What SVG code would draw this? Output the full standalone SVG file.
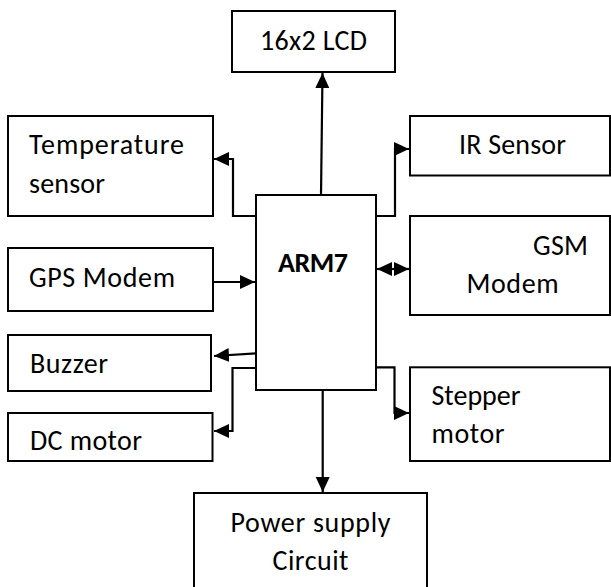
<svg xmlns="http://www.w3.org/2000/svg" width="611" height="587" viewBox="0 0 611 587">
<defs>
<style>
.box{fill:#fff;stroke:#000;stroke-width:2}
.t{font-family:Carlito,Calibri,Lato,"Liberation Sans",sans-serif;font-size:28px;fill:#000}
.b{font-weight:bold}
.c{fill:none;stroke:#000;stroke-width:2.2}
</style>
<marker id="ah" markerUnits="userSpaceOnUse" markerWidth="16" markerHeight="16" refX="15" refY="7" orient="auto-start-reverse">
<path d="M0,0 L15,7 L0,14 z" fill="#000"/>
</marker>
</defs>
<rect width="611" height="587" fill="#fff"/>
<g id="connectors">
<path class="c" d="M321,195 L322.5,73" marker-end="url(#ah)"/>
<path class="c" d="M256,216 H233 V159 H214" marker-end="url(#ah)"/>
<path class="c" d="M376,216 H395 V149 H409" marker-end="url(#ah)"/>
<path class="c" d="M213,282 H255" marker-end="url(#ah)"/>
<path class="c" d="M377,269 H409" marker-start="url(#ah)" marker-end="url(#ah)"/>
<path class="c" d="M256,353.3 L214,356" marker-end="url(#ah)"/>
<path class="c" d="M256,368 H232.5 V431 H214" marker-end="url(#ah)"/>
<path class="c" d="M376,367.3 H394.5 V413 H409" marker-end="url(#ah)"/>
<path class="c" d="M322.7,390 V492" marker-end="url(#ah)"/>
</g>
<g id="lcd"><rect class="box" x="232" y="11" width="163" height="61"/><text class="t" x="260" y="50" textLength="107">16x2 LCD</text></g>
<g id="temperature"><rect class="box" x="8" y="116" width="205" height="100"/><text class="t" x="29" y="154.3" textLength="155">Temperature</text><text class="t" x="29" y="192.7" textLength="76">sensor</text></g>
<g id="ir"><rect class="box" x="410" y="116" width="200" height="59.5"/><text class="t" x="459" y="154" textLength="107">IR Sensor</text></g>
<g id="gsm"><rect class="box" x="410" y="216" width="200" height="99"/><text class="t" x="533" y="255" textLength="55">GSM</text><text class="t" x="466.5" y="292.7" textLength="92">Modem</text></g>
<g id="gps"><rect class="box" x="8" y="248" width="205" height="63"/><text class="t" x="29" y="286.7" textLength="146">GPS Modem</text></g>
<g id="arm7"><rect class="box" x="256" y="195" width="120" height="195"/><text class="t b" x="278" y="272.3" textLength="70">ARM7</text></g>
<g id="buzzer"><rect class="box" x="8" y="335" width="203" height="56"/><text class="t" x="30" y="373" textLength="78">Buzzer</text></g>
<g id="dcmotor"><rect class="box" x="8" y="413" width="204.5" height="48"/><text class="t" x="30" y="450" textLength="112">DC motor</text></g>
<g id="stepper"><rect class="box" x="410" y="367.3" width="200" height="93.7"/><text class="t" x="431.5" y="405" textLength="89">Stepper</text><text class="t" x="431.5" y="443.3" textLength="73">motor</text></g>
<g id="power"><rect class="box" x="194" y="493" width="233" height="110"/><text class="t" x="230.5" y="531.7" textLength="160">Power supply</text><text class="t" x="272.5" y="570" textLength="76">Circuit</text></g>
</svg>
